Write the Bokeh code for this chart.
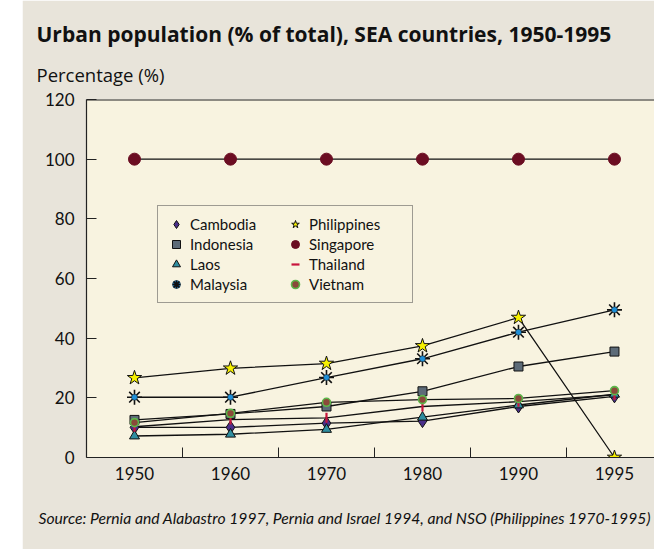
import math
from bokeh.plotting import figure
from bokeh.models import (Range1d, FixedTicker, Legend, LegendItem, Title, Spacer, Span)
from bokeh.layouts import row
from bokeh.embed import file_html
from bokeh.resources import INLINE

years = ["1950", "1960", "1970", "1980", "1990", "1995"]
cambodia = [10.1, 10.1, 11.5, 12.2, 17.1, 20.5]
indonesia = [12.6, 14.6, 17.1, 22.2, 30.5, 35.5]
laos = [7.2, 7.8, 9.4, 13.5, 17.6, 21.2]
malaysia = [20.2, 20.2, 26.8, 33.1, 42.0, 49.5]
philippines = [26.7, 29.9, 31.5, 37.4, 46.9, 0.0]
singapore = [100, 100, 100, 100, 100, 100]
thailand = [10.3, 12.7, 13.3, 17.1, 18.7, 21.0]
vietnam = [11.7, 14.8, 18.5, 19.4, 19.8, 22.4]
y_ticks = [0, 20, 40, 60, 80, 100, 120]

FONT = "Lato"
TFONT = "Open Sans"
xpos = [i + 0.5 for i in range(len(years))]

p = figure(frame_width=568, frame_height=358, output_backend="svg", toolbar_location=None,
           x_range=Range1d(0, 5.917), y_range=Range1d(0, 120),
           min_border_left=64, min_border_right=0, min_border_top=99, min_border_bottom=92)
p.background_fill_color = "#f8f3e0"
p.border_fill_color = "#e8e4da"
p.outline_line_color = None
p.grid.visible = False
p.add_layout(Span(location=120, dimension="width", line_color="#222222", line_width=2))

# x axis
p.xaxis.ticker = FixedTicker(ticks=xpos, minor_ticks=[1, 2, 3, 4, 5])
p.xaxis.major_label_overrides = {x: y for x, y in zip(xpos, years)}
p.xaxis.major_tick_in = 0
p.xaxis.major_tick_out = 0
p.xaxis.minor_tick_in = 10
p.xaxis.minor_tick_out = 0
p.xaxis.minor_tick_line_color = "#222222"
p.xaxis.major_label_standoff = 9
# y axis
p.yaxis.ticker = FixedTicker(ticks=y_ticks)
p.yaxis.major_tick_in = 10
p.yaxis.major_tick_out = 0
p.yaxis.minor_tick_line_color = None
p.yaxis.major_label_standoff = 12
for ax in (p.xaxis, p.yaxis):
    ax.axis_line_color = "#222222"
    ax.axis_line_width = 1.2
    ax.major_tick_line_color = "#222222"
    ax.major_label_text_font = FONT
    ax.major_label_text_font_size = "17px"
    ax.major_label_text_color = "#111111"

series = [cambodia, indonesia, laos, malaysia, philippines, singapore, thailand, vietnam]
for s in series:
    p.line(xpos, s, line_color="#111111", line_width=1.3)

r_cam = p.scatter(xpos, cambodia, marker="diamond", size=13, fill_color="#4a2f8a", line_color="#111111")
r_ind = p.scatter(xpos, indonesia, marker="square", size=9, fill_color="#5d6b78", line_color="#111111")
r_lao = p.scatter(xpos, laos, marker="triangle", size=10, fill_color="#2f8ea0", line_color="#111111")
r_mal1 = p.scatter(xpos, malaysia, marker="asterisk", size=15, line_color="#111111", line_width=1.6)
r_mal2 = p.scatter(xpos, malaysia, marker="circle", size=6, fill_color="#1e8fd8", line_color="#111111", line_width=0.5)
r_phi = p.scatter(xpos, philippines, marker="star", size=15, fill_color="#f6f000", line_color="#111111")
r_sin = p.scatter(xpos, singapore, marker="circle", size=12, fill_color="#6b0d22", line_color="#6b0d22")
r_tha = p.scatter(xpos, thailand, marker="dash", size=10, angle=math.pi / 2,
                  line_color="#c8143c", line_width=2.2)
r_vie = p.scatter(xpos, vietnam, marker="circle", size=8, fill_color="#8a4a3a", line_color="#5cb84a", line_width=1.6)

items = [
    LegendItem(label="Cambodia", renderers=[r_cam]),
    LegendItem(label="Indonesia", renderers=[r_ind]),
    LegendItem(label="Laos", renderers=[r_lao]),
    LegendItem(label="Malaysia", renderers=[r_mal2, r_mal1]),
    LegendItem(label="Philippines", renderers=[r_phi]),
    LegendItem(label="Singapore", renderers=[r_sin]),
    LegendItem(label="Thailand", renderers=[r_tha]),
    LegendItem(label="Vietnam", renderers=[r_vie]),
]
legend = Legend(items=items, location=(71, 154), orientation="vertical", nrows=4,
                label_text_font=FONT, label_text_font_size="15px", label_text_color="#111111",
                label_height=20, glyph_height=20, glyph_width=20, label_width=95,
                spacing=0, padding=8, margin=0, label_standoff=4,
                background_fill_color="#f8f3e0", background_fill_alpha=1,
                border_line_color="#444444", border_line_width=1.2)
p.add_layout(legend, "center")

# Titles outside the frame
p.add_layout(Title(text="Percentage (%)", align="left", offset=-50, standoff=25,
                   text_font=TFONT, text_font_size="18.5px", text_font_style="normal",
                   text_color="#111111"), "above")
p.add_layout(Title(text="Urban population (% of total), SEA countries, 1950-1995",
                   align="left", offset=-50, standoff=0,
                   text_font=TFONT, text_font_size="21px", text_font_style="bold",
                   text_color="#111111"), "above")
p.add_layout(Title(text="Source: Pernia and Alabastro 1997, Pernia and Israel 1994, and NSO (Philippines 1970-1995)",
                   align="left", offset=-48, standoff=48,
                   text_font=FONT, text_font_size="15.7px", text_font_style="italic",
                   text_color="#111111"), "below")

layout = row(Spacer(width=22, height=549), p)
open("out.html", "w").write(file_html(layout, INLINE))
